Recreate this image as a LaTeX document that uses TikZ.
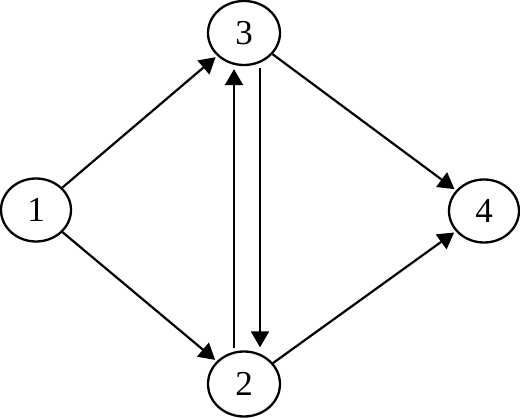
\documentclass[tikz,border=0pt]{standalone}
\usepackage{fontspec}
\setmainfont{Liberation Serif}
\usetikzlibrary{arrows.meta,shapes.geometric}
\begin{document}
\begin{tikzpicture}[x=1pt,y=-1pt,
  vert/.style={draw,ellipse,line width=2.3pt,minimum width=70pt,minimum height=63pt,inner sep=0pt,font=\fontsize{35}{38}\selectfont},
  arr/.style={line width=2.2pt,-{Triangle[length=16pt,width=18pt]},shorten >=2pt}]
\useasboundingbox (0,0) rectangle (520,419);
\node[vert] (n1) at (36,210) {1};
\node[vert,minimum width=72pt,minimum height=64pt] (n3) at (244,33) {3};
\node[vert,minimum width=72pt,minimum height=65pt] (n2) at (244,384) {2};
\node[vert] (n4) at (484,211) {4};
\draw[arr] (n1) -- (n3);
\draw[arr] (n1) -- (n2);
\draw[arr] (n3) -- (n4);
\draw[arr] (n2) -- (n4);
\draw[arr] ([xshift=-10pt,yshift=2pt]n2.north) -- ([xshift=-10pt,yshift=-1pt]n3.south);
\draw[arr] ([xshift=16pt,yshift=-2pt]n3.south) -- ([xshift=16pt,yshift=1pt]n2.north);
\end{tikzpicture}
\end{document}
